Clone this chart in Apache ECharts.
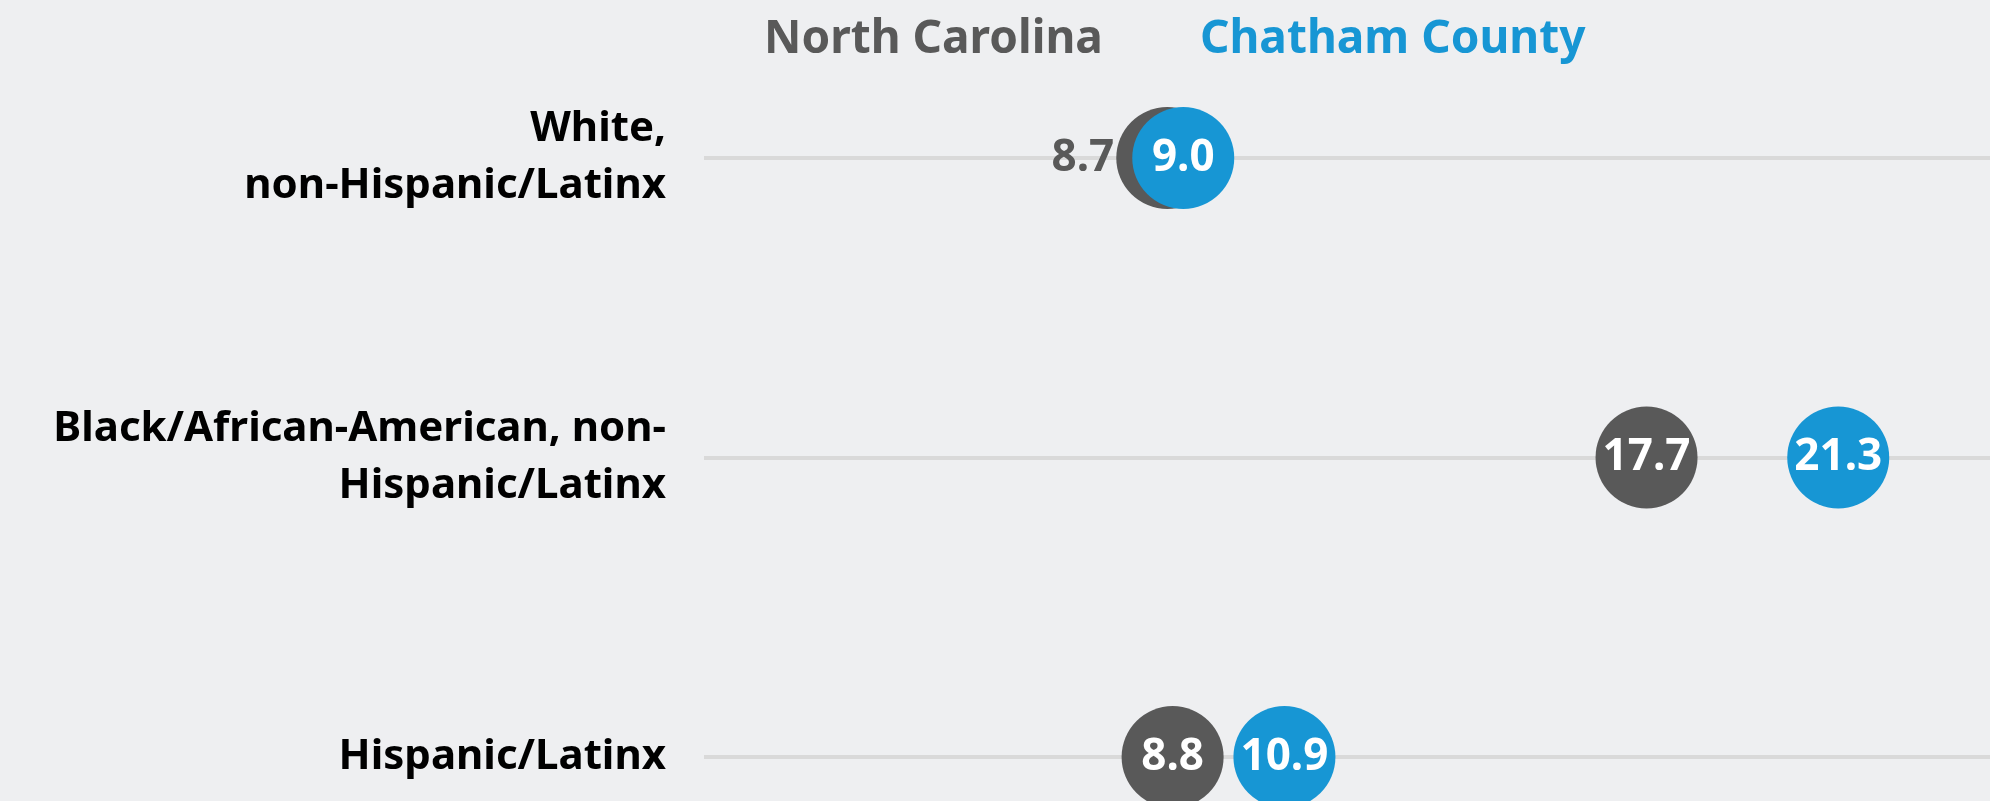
<!DOCTYPE html>
<html>
<head>
<meta charset="utf-8">
<script src="https://cdn.jsdelivr.net/npm/echarts@6/dist/echarts.min.js"></script>
<style>
  html, body { margin: 0; padding: 0; background: #eeeff1; }
  #chart { width: 1990px; height: 801px; }
</style>
</head>
<body>
<div id="chart"></div>
<script>
// categories, top to bottom
const categories = [
  'White,\nnon-Hispanic/Latinx',
  'Black/African-American, non-\nHispanic/Latinx',
  'Hispanic/Latinx'
];
const ncValues = [8.7, 17.7, 8.8];
const chathamValues = [9.0, 21.3, 10.9];

const grey = '#595959';
const blue = '#1796d4';
const font = 'Noto Sans';

const chart = echarts.init(document.getElementById('chart'));

// NC label sits outside the dot when the county dot covers it
const ncData = ncValues.map((v, i) => {
  const item = { value: [v, i] };
  if (Math.abs(chathamValues[i] - v) < 1) {
    item.label = { position: 'left', distance: 2, color: grey };
  }
  return item;
});

const option = {
  backgroundColor: '#eeeff1',
  animation: false,
  textStyle: { fontFamily: font },
  legend: {
    top: 12,
    left: 754,
    icon: 'none',
    itemWidth: 0,
    itemHeight: 0,
    itemGap: 92,
    selectedMode: false,
    textStyle: { fontSize: 46, fontWeight: 'bold', fontFamily: font },
    data: [
      { name: 'North Carolina', textStyle: { color: grey } },
      { name: 'Chatham County', textStyle: { color: blue } }
    ]
  },
  grid: { left: 704, right: 0, top: 158, bottom: 44 },
  xAxis: {
    type: 'value',
    min: 0,
    max: 24.15,
    show: false,
    splitLine: { show: false }
  },
  yAxis: {
    type: 'category',
    data: categories,
    inverse: true,
    boundaryGap: false,
    axisLine: { show: false },
    axisTick: { show: false },
    axisLabel: {
      margin: 38,
      color: '#000',
      fontSize: 42,
      fontWeight: 'bold',
      lineHeight: 57,
      fontFamily: font
    },
    splitLine: { show: true, lineStyle: { color: '#d9d9d9', width: 4 } }
  },
  series: [
    {
      name: 'North Carolina',
      type: 'scatter',
      clip: false,
      symbolSize: 102,
      itemStyle: { color: grey, opacity: 1 },
      label: {
        show: true,
        position: 'inside',
        color: '#fff',
        fontSize: 44,
        fontWeight: 'bold',
        fontFamily: font,
        formatter: p => p.value[0].toFixed(1)
      },
      data: ncData
    },
    {
      name: 'Chatham County',
      type: 'scatter',
      clip: false,
      symbolSize: 102,
      itemStyle: { color: blue, opacity: 1 },
      label: {
        show: true,
        position: 'inside',
        color: '#fff',
        fontSize: 44,
        fontWeight: 'bold',
        fontFamily: font,
        formatter: p => p.value[0].toFixed(1)
      },
      data: chathamValues.map((v, i) => [v, i])
    }
  ]
};

chart.setOption(option);
</script>
</body>
</html>
